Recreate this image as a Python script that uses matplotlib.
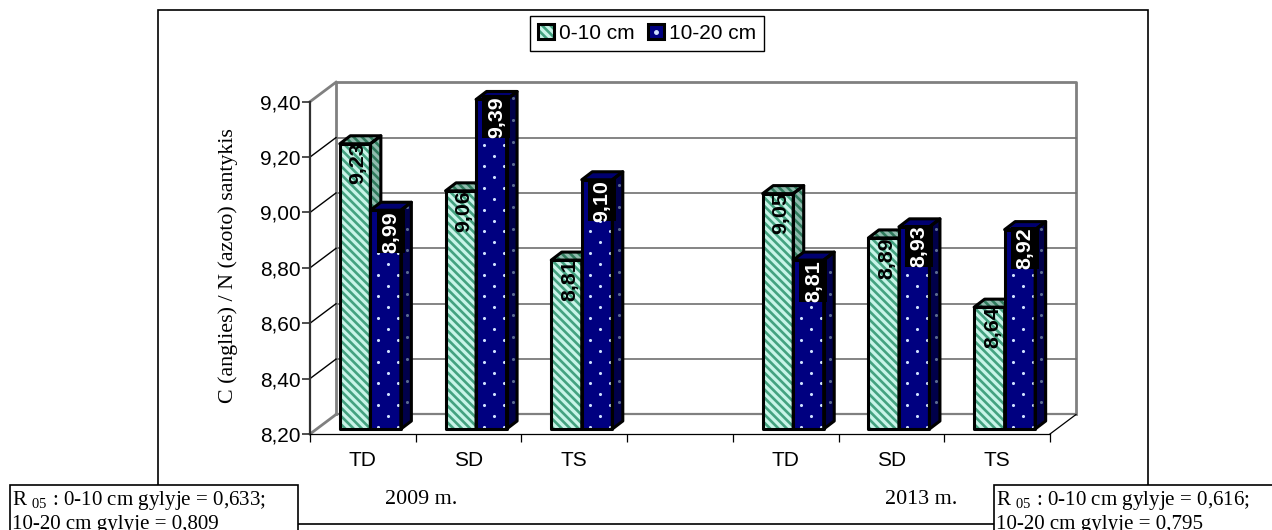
import numpy as np
import matplotlib
matplotlib.use("Agg")
import matplotlib.pyplot as plt
from matplotlib.patches import Rectangle, Polygon, Patch
from matplotlib.lines import Line2D
from matplotlib.legend_handler import HandlerTuple
from matplotlib.transforms import Affine2D, IdentityTransform

# Data
categories = ["TD", "SD", "TS", "", "TD", "SD", "TS"]
shallow = [9.23, 9.06, 8.81, None, 9.05, 8.89, 8.64]
deep = [8.99, 9.39, 9.10, None, 8.81, 8.93, 8.92]
y_ticks = [8.20, 8.40, 8.60, 8.80, 9.00, 9.20, 9.40]
series_names = ["0-10 cm", "10-20 cm"]
y_title = "C (anglies) / N (azoto) santykis"
period_labels = ["2009 m.", "2013 m."]
note_left = "R $_{05}$ : 0-10 cm gylyje = 0,633;\n10-20 cm gylyje = 0,809"
note_right = "R $_{05}$ : 0-10 cm gylyje = 0,616;\n10-20 cm gylyje = 0,795"

W, H = 1272, 530
plt.rcParams.update({
    "font.family": "Liberation Sans",
    "hatch.linewidth": 1.9,
    "mathtext.fontset": "custom",
    "mathtext.rm": "Liberation Serif",
})

GREEN_LIGHT, GREEN_DARK = "#c8f4e8", "#44a280"
GREEN_SIDE_L, GREEN_SIDE_D = "#8fbcae", "#2f7a5c"
BLUE, BLUE_SIDE, BLUE_TOP = "#000080", "#00004a", "#000070"
WALL = "#808080"
STRIPES = "\\" * 4

fig = plt.figure(figsize=(W / 100, H / 100), dpi=100)
ax = fig.add_axes([310 / W, (H - 434) / H, 740 / W, 332.3 / H])
ax.set_xlim(0, 7)
ax.set_ylim(8.2, 9.4)
ax.patch.set_visible(False)

def shifted(dx, dy):
    """Data coordinates nudged by a fixed pixel offset (the 3D projection)."""
    return ax.transData + Affine2D().translate(dx, dy)

# Outer chart frame, drawn behind everything
fig.add_artist(Rectangle((157.5 / W, (H - 524) / H), 990.5 / W, 514 / H,
                         transform=fig.transFigure, fill=False,
                         edgecolor="black", linewidth=1.2, zorder=-5))

# Back wall and floor of the 3D box
DEPTH = (26, 19.5)
back = shifted(*DEPTH)
ax.add_line(Line2D([0, 0, 7, 7], [8.2, 9.4, 9.4, 8.2], transform=back,
                   color=WALL, lw=2, clip_on=False, zorder=1))
ax.add_line(Line2D([0, 7], [8.2, 8.2], transform=back, color=WALL, lw=1.6,
                   clip_on=False, zorder=1))
for t in y_ticks[1:-1]:
    ax.add_line(Line2D([0, 7], [t, t], transform=back, color="#707070", lw=1.2,
                       clip_on=False, zorder=1))

# Diagonals joining the front axis to the back wall
disp = ax.transData
for i, t in enumerate(y_ticks):
    x0, y0 = disp.transform((0, t))
    color = WALL if i in (0, len(y_ticks) - 1) else "black"
    lw = 2 if i in (0, len(y_ticks) - 1) else 1
    ax.add_line(Line2D([x0, x0 + DEPTH[0]], [y0, y0 + DEPTH[1]],
                       transform=IdentityTransform(), color=color, lw=lw,
                       clip_on=False, zorder=1))
x1, y1 = disp.transform((7, 8.2))
ax.add_line(Line2D([x1, x1 + DEPTH[0]], [y1, y1 + DEPTH[1]],
                   transform=IdentityTransform(), color="black", lw=0.9,
                   clip_on=False, zorder=1))

# Bar geometry, in data units and pixel offsets
BAR_W = 0.2886
BAR_SHIFT = (7.5, 5)
BAR_D = (10.5, 8)
OUT = 2.2

def face(points, fc, hatch=None, hatch_color=None, z=3):
    """Filled polygon in display pixels with a separate black outline."""
    kw = dict(transform=IdentityTransform(), clip_on=False, zorder=z)
    if hatch:
        ax.add_patch(Polygon(points, facecolor=fc, edgecolor=hatch_color,
                             hatch=hatch, linewidth=0, **kw))
    else:
        ax.add_patch(Polygon(points, facecolor=fc, edgecolor="none", **kw))
    ax.add_patch(Polygon(points, fill=False, edgecolor="black", linewidth=OUT,
                         joinstyle="round", transform=IdentityTransform(),
                         clip_on=False, zorder=z + 0.5))

def dots(xs, ys, points, color, z):
    clip = Polygon(points, transform=IdentityTransform())
    s = ax.scatter(xs, ys, s=5, marker="o", color=color, linewidths=0,
                   transform=IdentityTransform(), zorder=z)
    s.set_clip_path(clip)

def draw_bar(center, value, kind, z):
    left = center - BAR_W if kind == "shallow" else center
    (xa, ya) = shifted(*BAR_SHIFT).transform((left, 8.2))
    (xb, yb) = shifted(*BAR_SHIFT).transform((left + BAR_W, value))
    dx, dy = BAR_D
    front = [(xa, ya), (xb, ya), (xb, yb), (xa, yb)]
    side = [(xb, ya), (xb + dx, ya + dy), (xb + dx, yb + dy), (xb, yb)]
    top = [(xa, yb), (xb, yb), (xb + dx, yb + dy), (xa + dx, yb + dy)]
    if kind == "shallow":
        face(side, GREEN_SIDE_L, STRIPES, GREEN_SIDE_D, z)
        face(top, GREEN_SIDE_L, STRIPES, GREEN_SIDE_D, z)
        face(front, GREEN_LIGHT, STRIPES, GREEN_DARK, z)
    else:
        face(side, BLUE_SIDE, z=z)
        face(top, BLUE_TOP, z=z)
        face(front, BLUE, z=z)
        # staggered dot texture on the front and side faces
        cols = xa + 8 + 10 * np.arange(-1, 3)
        px, py = [], []
        for j, c in enumerate(cols):
            start = ya + (2.3 if j % 2 else 13)
            for r in np.arange(start, yb, 21.7):
                px.append(c)
                py.append(r)
        dots(px, py, front, "#cfe0ff", z + 0.2)
        sy = np.arange(ya + 5, yb + dy, 21.7)
        dots(np.full(sy.shape, xb + dx / 2 + 1), sy, side, "#5a6a90", z + 0.2)
    return xa, xb, yb

z = 3
for i, (a, b) in enumerate(zip(shallow, deep)):
    if a is None:
        continue
    c = i + 0.5
    draw_bar(c, a, "shallow", z)
    draw_bar(c, b, "deep", z + 1)
    z += 2

# Value labels, on top of all bars; the deep series sits on black plates
PLATE_W, PLATE_H = 28, 42.5
plate_lift = [0, 4, 1, 0, 1, 2, 3]
for i, (a, b) in enumerate(zip(shallow, deep)):
    if a is None:
        continue
    c = i + 0.5
    ax.text(c - BAR_W / 2, a, f"{a:.2f}".replace(".", ","), rotation=90,
            ha="center", va="top", fontsize=15.4, fontweight="bold", color="black",
            transform=shifted(BAR_SHIFT[0] + 3, BAR_SHIFT[1] + 1), zorder=50)
    lift = plate_lift[i]
    px, py = shifted(BAR_SHIFT[0] + 5, BAR_SHIFT[1] + lift).transform((c + BAR_W / 2, b))
    ax.add_patch(Rectangle((px - PLATE_W / 2, py - PLATE_H), PLATE_W, PLATE_H,
                           facecolor="black", edgecolor="none", clip_on=False,
                           transform=IdentityTransform(), zorder=49))
    ax.text(c + BAR_W / 2, b, f"{b:.2f}".replace(".", ","), rotation=90,
            ha="center", va="top", fontsize=15.4, fontweight="bold", color="white",
            transform=shifted(BAR_SHIFT[0] + 5, BAR_SHIFT[1] + lift - 1), zorder=50)

# Axes, ticks and labels
for s in ("top", "right"):
    ax.spines[s].set_visible(False)
ax.spines["left"].set_color("#303030")
ax.spines["left"].set_linewidth(1.6)
ax.spines["bottom"].set_color("black")
ax.spines["bottom"].set_linewidth(0.9)
ax.set_yticks(y_ticks)
ax.set_yticklabels([f"{t:.2f}".replace(".", ",") for t in y_ticks], fontsize=15)
ax.tick_params(axis="y", length=6, width=1.2, color="#303030", pad=1)
ax.set_xticks(range(8))
ax.set_xticklabels([])
ax.tick_params(axis="x", which="major", length=6, width=0.9, color="black")
ax.set_xticks(np.arange(7) + 0.5, minor=True)
ax.set_xticklabels(categories, minor=True, fontsize=15)
ax.tick_params(axis="x", which="minor", length=0, pad=12)

fig.text(228 / W, (H - 266) / H, y_title, rotation=90, ha="center", va="center",
         family="Liberation Serif", fontsize=15.8)
for label, px_x in zip(period_labels, (421, 921)):
    fig.text(px_x / W, (H - 499.5) / H, label, ha="center", va="center",
             family="Liberation Serif", fontsize=15.8)

# Legend
h1 = (Patch(facecolor=GREEN_LIGHT, edgecolor=GREEN_DARK, hatch=STRIPES, linewidth=0),
      Patch(fill=False, edgecolor="black", linewidth=2.2))
h2 = (Patch(facecolor=BLUE, edgecolor="black", linewidth=2.2),
      Line2D([], [], marker="o", ms=2.5, color="#cfe0ff", ls="none"))
leg = fig.legend([h1, h2], series_names, handler_map={tuple: HandlerTuple(ndivide=1, pad=0)},
                 loc="center", bbox_to_anchor=(647 / W, (H - 33.5) / H),
                 fontsize=15, ncols=2, fancybox=False, framealpha=1,
                 edgecolor="black", handlelength=0.75, handleheight=0.75,
                 handletextpad=0.25, columnspacing=0.65, borderpad=0.4,
                 borderaxespad=0)
leg.get_frame().set_linewidth(1.0)

# Significance notes overlapping the frame corners
for x_left, x_right, text in ((10, 298, note_left), (994, 1290, note_right)):
    fig.text((x_left + 2) / W, (H - 489) / H, text, ha="left", va="top",
             family="Liberation Serif", fontsize=15.1, linespacing=1.22,
             zorder=10)
    fig.add_artist(Rectangle((x_left / W, -20 / H), (x_right - x_left) / W, (H - 485 + 20) / H,
                             transform=fig.transFigure, facecolor="white",
                             edgecolor="black", linewidth=1.2, zorder=9))

fig.savefig("out.png", dpi=100)
